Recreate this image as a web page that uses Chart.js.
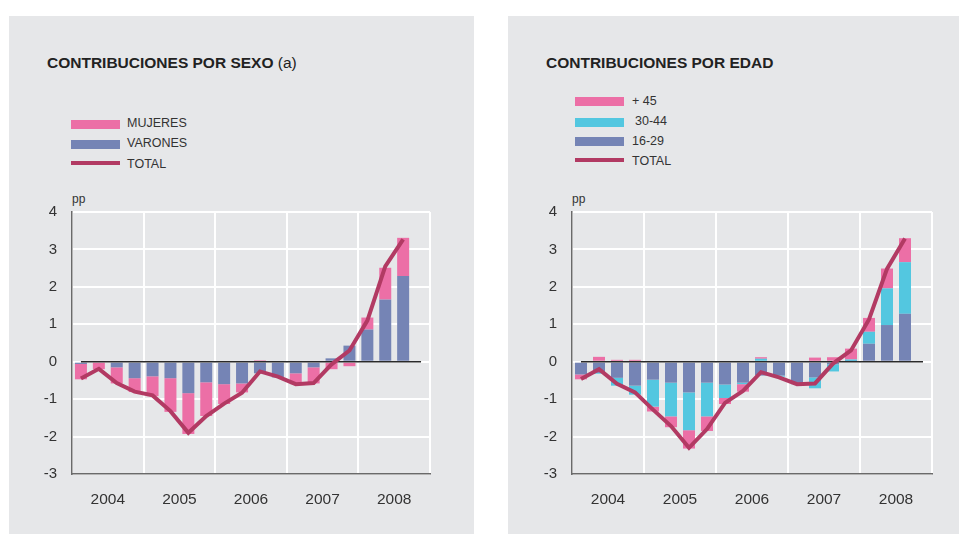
<!DOCTYPE html>
<html lang="es">
<head>
  <meta charset="UTF-8" />
  <title>Contribuciones por sexo y por edad</title>
  <script src="https://cdn.jsdelivr.net/npm/chart.js"></script>
  <style>
    body {
      margin: 0;
      width: 959px;
      height: 534px;
      background: #fff;
      font-family: 'Liberation Sans', Arial, sans-serif;
      color: #333;
      position: relative;
      overflow: hidden;
    }
    .panel {
      position: absolute;
      top: 16px;
      height: 518px;
      background: #e6e7e9;
    }
    .title {
      position: absolute;
      font-size: 15.5px;
      font-weight: bold;
      color: #222;
      white-space: nowrap;
    }
    .title span { font-weight: normal; }
    .leg {
      position: absolute;
      font-size: 12.5px;
      color: #333;
      white-space: nowrap;
    }
    .sw {
      position: absolute;
      width: 49px;
      height: 9px;
    }
    .ln {
      position: absolute;
      width: 49px;
      height: 4px;
    }
    .unit {
      position: absolute;
      font-size: 12px;
      color: #333;
    }
    canvas { position: absolute; }
  </style>
</head>
<body>

  <div class="panel" style="left:9px; width:465px;"></div>
  <div class="panel" style="left:508px; width:451px;"></div>

  <div class="title" style="left:47px; top:54px;">CONTRIBUCIONES POR SEXO <span>(a)</span></div>
  <div class="title" style="left:546px; top:54px;">CONTRIBUCIONES POR EDAD</div>

  <!-- legend left -->
  <div class="sw" style="left:71px; top:120px; background:#ec6fa6;"></div>
  <div class="leg" style="left:127px; top:116px;">MUJERES</div>
  <div class="sw" style="left:71px; top:140px; background:#7584b5;"></div>
  <div class="leg" style="left:127px; top:136px;">VARONES</div>
  <div class="ln" style="left:71px; top:161px; background:#b23a63;"></div>
  <div class="leg" style="left:127px; top:157px;">TOTAL</div>

  <!-- legend right -->
  <div class="sw" style="left:575px; top:97px; background:#ec6fa6;"></div>
  <div class="leg" style="left:632px; top:94px;">+ 45</div>
  <div class="sw" style="left:575px; top:118px; background:#53c7e0;"></div>
  <div class="leg" style="left:635px; top:114px;">30-44</div>
  <div class="sw" style="left:575px; top:137px; background:#7584b5;"></div>
  <div class="leg" style="left:632px; top:134px;">16-29</div>
  <div class="ln" style="left:575px; top:158px; background:#b23a63;"></div>
  <div class="leg" style="left:632px; top:154px;">TOTAL</div>

  <div class="unit" style="left:72px; top:192px;">pp</div>
  <div class="unit" style="left:572px; top:192px;">pp</div>

  <canvas id="sexoChart" width="430" height="326" style="left:20px; top:188px;"></canvas>
  <canvas id="edadChart" width="432" height="326" style="left:520px; top:188px;"></canvas>

  <script>
    // quarters 2004-I .. 2008-IV (last one empty)
    const quarters = ['2004-I','2004-II','2004-III','2004-IV','2005-I','2005-II','2005-III','2005-IV',
      '2006-I','2006-II','2006-III','2006-IV','2007-I','2007-II','2007-III','2007-IV',
      '2008-I','2008-II','2008-III','2008-IV'];
    const years = ['2004', '2005', '2006', '2007', '2008'];
    const yTicks = [-3, -2, -1, 0, 1, 2, 3, 4];

    // contribuciones por sexo
    const varones = [-0.06, 0, -0.15, -0.44, -0.39, -0.44, -0.84, -0.55, -0.6, -0.58, -0.31, -0.42, -0.31, -0.15, 0.09, 0.43, 0.86, 1.66, 2.29];
    const mujeres = [-0.41, -0.2, -0.43, -0.37, -0.53, -0.9, -1.09, -0.9, -0.53, -0.24, 0.04, 0, -0.29, -0.43, -0.2, -0.12, 0.32, 0.85, 1.02];
    const totalSexo = [-0.45, -0.19, -0.57, -0.8, -0.9, -1.32, -1.9, -1.45, -1.12, -0.83, -0.26, -0.4, -0.6, -0.57, -0.07, 0.3, 1.1, 2.55, 3.27];

    // contribuciones por edad
    const edad1629 = [-0.34, -0.3, -0.43, -0.64, -0.48, -0.56, -0.82, -0.56, -0.61, -0.56, -0.37, -0.37, -0.6, -0.42, -0.07, 0.02, 0.48, 0.98, 1.28];
    const edad3044 = [0, -0.02, -0.21, -0.24, -0.72, -0.9, -1.01, -0.9, -0.36, -0.04, 0.08, -0.03, 0, -0.29, -0.19, 0.04, 0.32, 0.98, 1.38];
    const edad45 = [-0.13, 0.13, 0.05, 0.05, -0.13, -0.29, -0.49, -0.39, -0.16, -0.2, 0.04, 0, 0, 0.11, 0.12, 0.29, 0.37, 0.53, 0.64];
    const totalEdad = [-0.46, -0.2, -0.59, -0.82, -1.28, -1.72, -2.3, -1.8, -1.1, -0.78, -0.28, -0.42, -0.6, -0.58, -0.05, 0.3, 1.13, 2.48, 3.29];

    const PINK = '#ec6fa6', PURPLE = '#7584b5', CYAN = '#53c7e0', LINE = '#b23a63';
    const FONT = "'Liberation Sans', Arial, sans-serif";

    // black zero line from first to last slot, drawn under the TOTAL line
    const zeroLine = {
      id: 'zeroLine',
      beforeDatasetDraw(chart, args) {
        if (chart.data.datasets[args.index].type !== 'line') return;
        const x = chart.scales.x, y = chart.scales.y;
        const ctx = chart.ctx;
        const yy = y.getPixelForValue(0);
        ctx.save();
        ctx.strokeStyle = '#2a2a2a';
        ctx.lineWidth = 1.5;
        ctx.beginPath();
        ctx.moveTo(x.getPixelForValue(0), yy);
        ctx.lineTo(x.getPixelForValue(19), yy);
        ctx.stroke();
        ctx.restore();
      }
    };

    function bar(label, data, color) {
      return {
        type: 'bar', label, data, backgroundColor: color,
        xAxisID: 'x', stack: 's', order: 1,
        categoryPercentage: 1, barPercentage: 0.67
      };
    }

    function makeChart(id, datasets) {
      return new Chart(document.getElementById(id), {
        data: { labels: quarters, datasets },
        options: {
          responsive: false,
          animation: false,
          layout: { padding: { top: 21, right: 20, left: 0, bottom: 0 } },
          plugins: { legend: { display: false }, tooltip: { enabled: false } },
          scales: {
            x: { display: false, stacked: true, offset: true },
            x2: {
              type: 'category',
              labels: years,
              position: 'bottom',
              offset: true,
              grid: { offset: true, color: '#ffffff', lineWidth: 2, drawTicks: false },
              border: { color: '#6a6a6a', width: 1.5 },
              ticks: { color: '#333', font: { family: FONT, size: 15.5 }, padding: 16 },
              afterFit(s) { s.height = 40; }
            },
            y: {
              min: -3, max: 4, stacked: true,
              afterBuildTicks(s) { s.ticks = yTicks.map(v => ({ value: v })); },
              grid: { color: '#ffffff', lineWidth: 2, drawTicks: false },
              border: { color: '#6a6a6a', width: 1.5 },
              ticks: { color: '#333', font: { family: FONT, size: 15 }, padding: 15 },
              afterFit(s) { s.width = 52; }
            }
          }
        },
        plugins: [zeroLine]
      });
    }

    makeChart('sexoChart', [
      bar('VARONES', varones, PURPLE),
      bar('MUJERES', mujeres, PINK),
      { type: 'line', label: 'TOTAL', data: totalSexo, borderColor: LINE, borderWidth: 4,
        pointRadius: 0, tension: 0, xAxisID: 'x', order: 0, stack: 'line' }
    ]);

    makeChart('edadChart', [
      bar('16-29', edad1629, PURPLE),
      bar('30-44', edad3044, CYAN),
      bar('+ 45', edad45, PINK),
      { type: 'line', label: 'TOTAL', data: totalEdad, borderColor: LINE, borderWidth: 4,
        pointRadius: 0, tension: 0, xAxisID: 'x', order: 0, stack: 'line' }
    ]);
  </script>
</body>
</html>
